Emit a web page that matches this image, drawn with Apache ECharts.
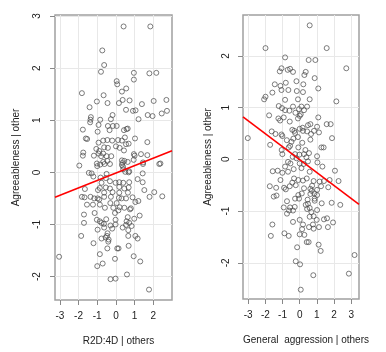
<!DOCTYPE html>
<html>
<head>
<meta charset="utf-8">
<script src="https://cdn.jsdelivr.net/npm/echarts@6/dist/echarts.min.js"></script>
<style>
  html, body { margin: 0; padding: 0; background: #fff; }
  #main { width: 386px; height: 352px; }
</style>
</head>
<body>
<div id="main"></div>
<script>
    // left panel: R2D:4D residuals vs agreeableness residuals
    var r2d4dX = [
        0.41, 1.84, -0.73, -0.63, -0.80, 0.96, 1.79, 2.16, 0.96, 0.04, 0.07, 0.55, 0.32, -1.82, -0.66, 0.36, 0.73, 2.02, 2.70, -1.02,
        -0.45, 0.16, 1.39, -1.41, 0.54, 0.91, 1.05, 2.73, 2.45, -0.18, 1.70, 1.96, -1.34, -1.36, -0.84, -0.27, 1.21, -1.38, -0.93, -1.77,
        -0.43, -0.16, 0.04, -0.34, 0.57, 0.63, 0.43, -0.98, -1.61, -1.54, 0.48, 1.02, -0.46, -0.68, -0.93, -0.20, 0.11, 0.32, 1.68, 0.54,
        0.68, 0.00, -1.05, -0.63, -0.43, 0.20, 0.43, -0.89, -1.75, -1.77, -1.18, -0.93, -0.68, -0.79, -0.50, -0.25, 0.96, 1.00, 1.34, 1.68,
        0.95, 0.32, 0.45, -0.46, -0.68, -1.02, -1.00, -1.96, -0.61, -0.32, -0.84, 0.34, 0.32, 0.63, 0.38, 1.45, 2.38, 2.32, 1.45, 0.39,
        0.71, 1.43, -1.45, -1.30, -0.50, 0.50, 0.68,
        -0.82, -0.54, -1.21, -0.32, -0.02, 0.18, 0.39, 0.71, 1.16, 1.43, -0.77, -0.86, -0.54, -0.32, 0.18, 0.45, 0.68, 1.52, -1.66, -0.96,
        -0.63, -0.18, 0.18, 0.64, 2.05, -1.82, -1.68, -1.36, -1.16, -0.98, -0.89, -0.63, -0.27, 0.16, 0.30, 0.54, 0.89, 1.80, 2.48, 1.20,
        1.04, -1.55, -1.23, -0.86, -0.30, 0.04, -0.59, -0.14, 0.20, 0.45, 0.75, 0.80, -1.14, -0.05, 0.13, -1.71, 1.27, 0.63, 0.98, -1.02,
        -0.86, -0.52, -0.02, -0.77, -0.64, 0.57, 0.71, -0.29, -1.71, -0.02, 0.54, 0.84, 0.36, -0.20, -0.98, -0.63, 0.66, -0.45, -0.48, -0.77,
        -0.55, -0.39, -1.86, 0.66, 1.04, 1.16, -1.20, -0.41, 0.68, 0.07, 0.14, -0.46, -0.86, -3.04, 0.95, -0.05, -0.71, -1.00, 1.30, 0.59,
        -0.02, -0.29, 1.77
    ];
    var agreeLeftY = [
        2.80, 2.80, 2.34, 2.06, 1.93, 1.91, 1.90, 1.91, 1.78, 1.75, 1.69, 1.61, 1.55, 1.52, 1.48, 1.39, 1.38, 1.37, 1.39, 1.36,
        1.33, 1.33, 1.31, 1.25, 1.20, 1.18, 1.19, 1.18, 1.13, 1.10, 1.10, 1.08, 1.06, 1.01, 1.01, 1.02, 1.02, 0.96, 0.91, 0.82,
        0.89, 0.89, 0.89, 0.81, 0.83, 0.84, 0.81, 0.78, 0.65, 0.64, 0.67, 0.65, 0.62, 0.61, 0.57, 0.61, 0.62, 0.61, 0.58, 0.54,
        0.55, 0.50, 0.45, 0.48, 0.47, 0.47, 0.42, 0.41, 0.38, 0.32, 0.32, 0.36, 0.36, 0.31, 0.31, 0.31, 0.35, 0.32, 0.35, 0.33,
        0.24, 0.23, 0.22, 0.22, 0.20, 0.17, 0.12, 0.13, 0.16, 0.16, 0.15, 0.18, 0.14, 0.20, 0.11, 0.16, 0.17, 0.16, 0.19, 0.06,
        0.02, -0.02, -0.01, -0.02, -0.03, 0.01, 0.00,
        -0.10, -0.11, -0.08, -0.17, -0.20, -0.19, -0.20, -0.19, -0.13, -0.19, -0.20, -0.30, -0.29, -0.31, -0.28, -0.31, -0.29, -0.34, -0.32, -0.34,
        -0.39, -0.38, -0.39, -0.39, -0.38, -0.47, -0.48, -0.47, -0.50, -0.50, -0.52, -0.47, -0.47, -0.49, -0.50, -0.50, -0.48, -0.47, -0.46, -0.55,
        -0.57, -0.62, -0.62, -0.62, -0.59, -0.59, -0.68, -0.68, -0.67, -0.68, -0.71, -0.69, -0.78, -0.78, -0.73, -0.81, -0.83, -0.86, -0.89, -0.91,
        -0.94, -0.90, -0.91, -0.97, -0.99, -0.94, -0.97, -1.02, -0.97, -1.00, -1.01, -1.03, -1.06, -1.08, -1.10, -1.06, -1.11, -1.17, -1.22, -1.27,
        -1.25, -1.29, -1.22, -1.22, -1.22, -1.27, -1.36, -1.33, -1.41, -1.46, -1.46, -1.46, -1.57, -1.62, -1.61, -1.66, -1.75, -1.80, -1.71, -1.96,
        -2.04, -2.05, -2.25
    ];
    var fitLeftX = [-3.26, 3.0];
    var fitLeftY = [-0.48, 0.415];

    // right panel: general aggression residuals vs agreeableness residuals
    var aggressionX = [
        0.58, -1.99, 1.57, -0.85, 0.52, 0.91, 2.71, -1.06, -1.16, -0.70, -0.56, -0.39, 0.35, 0.27, 0.87, -1.45, -1.12, -0.81, -0.19, 0.21,
        1.08, -1.59, -1.06, -0.66, -0.17, 0.19, -1.99, -2.07, -0.85, -0.10, 0.58, 2.13, -1.22, -1.03, -0.39, 0.10, 0.43, -0.85, -0.60, -0.04,
        0.25, -1.78, -0.25, 0.06, 0.00, -1.24, -0.93, -1.14, -0.58, -0.10, 1.08, 0.48, 0.62, 1.57, 1.80, 0.17, 1.01, -1.63, -1.41, -1.06,
        -1.01, -0.43, -0.31, -0.27, 0.00, 0.19, 0.43, 0.66, 0.83, 1.12, -3.02, -1.72, -0.75, -0.48, -0.37, -0.10, 0.15, 0.62, 1.88, -0.64,
        -0.56, -0.08, 1.26, 1.39, -1.05, 0.33, -1.01, -0.27, -0.02, 0.25, 0.54, -0.41, -0.19, 1.01, 0.39, -0.68, -0.54, -1.28, -1.57, -0.85,
        0.00, 0.23, 0.48, 1.03, 1.32, 2.05, -0.68, -0.35, 0.10, 0.58, -1.01,
        -1.12, -0.33, -0.08, 0.19, 0.41, 0.81, 1.16, 1.41, 1.74, 2.26, -0.43, -1.74, -1.37, -0.91, -0.81, -0.58, -0.23, 0.25, 0.62, 0.72,
        1.01, 1.24, 1.66, -1.51, -1.35, -0.08, 0.12, 0.70, 0.62, 0.85, 1.01, -0.74, -0.27, -0.04, 0.46, 0.87, 0.87, 1.28, 1.86, 2.36,
        -0.93, -0.56, -0.29, 0.35, 0.48, 0.58, 0.43, 1.01, -0.62, -0.74, -0.39, 0.68, 0.81, 0.58, 0.99, 1.41, 1.59, 1.94, 1.64, -0.39,
        0.00, 0.19, 0.54, 0.77, 1.12, 0.81, 0.14, -1.59, -1.68, -0.89, -0.64, 0.00, 0.27, 0.41, 0.52, 1.10, 1.22, -0.15, -0.23, 0.02,
        0.79, 2.86, 3.19, 0.06
    ];
    var agreeRightY = [
        2.59, 2.15, 2.15, 1.97, 1.92, 1.92, 1.76, 1.76, 1.70, 1.73, 1.75, 1.69, 1.69, 1.63, 1.57, 1.45, 1.42, 1.48, 1.51, 1.45,
        1.37, 1.29, 1.34, 1.34, 1.32, 1.30, 1.21, 1.16, 1.15, 1.16, 1.16, 1.12, 1.03, 0.99, 1.02, 1.02, 1.02, 0.95, 0.94, 0.97,
        0.95, 0.85, 0.90, 0.87, 0.84, 0.79, 0.81, 0.75, 0.73, 0.79, 0.81, 0.66, 0.68, 0.68, 0.68, 0.61, 0.63, 0.54, 0.49, 0.48,
        0.45, 0.57, 0.55, 0.51, 0.59, 0.55, 0.54, 0.49, 0.55, 0.52, 0.41, 0.28, 0.37, 0.34, 0.40, 0.43, 0.32, 0.38, 0.41, 0.23,
        0.26, 0.23, 0.23, 0.23, 0.18, 0.18, 0.10, 0.10, 0.09, 0.10, 0.12, 0.05, 0.02, 0.06, 0.04, -0.05, -0.08, -0.22, -0.23, -0.14,
        -0.08, -0.09, -0.04, -0.06, -0.14, -0.22, -0.24, -0.19, -0.17, -0.24, -0.26,
        -0.40, -0.37, -0.40, -0.41, -0.37, -0.42, -0.43, -0.42, -0.40, -0.42, -0.45, -0.52, -0.55, -0.55, -0.58, -0.52, -0.50, -0.56, -0.57, -0.51,
        -0.59, -0.52, -0.54, -0.72, -0.70, -0.69, -0.66, -0.61, -0.67, -0.66, -0.69, -0.81, -0.76, -0.76, -0.78, -0.76, -0.80, -0.85, -0.84, -0.88,
        -0.93, -0.93, -0.92, -0.88, -0.86, -0.94, -0.96, -0.98, -0.99, -1.05, -0.99, -1.02, -1.10, -1.11, -1.17, -1.16, -1.14, -1.22, -1.31, -1.21,
        -1.17, -1.26, -1.31, -1.26, -1.31, -1.34, -1.35, -1.26, -1.48, -1.43, -1.48, -1.45, -1.46, -1.60, -1.60, -1.65, -1.77, -1.70, -1.97, -2.03,
        -2.24, -2.21, -1.85, -2.52
    ];
    var fitRightX = [-3.3, 3.45];
    var fitRightY = [0.82, -0.87];

    var ticksLeftX = [-3, -2, -1, 0, 1, 2];
    var ticksLeftY = [-2, -1, 0, 1, 2, 3];
    var ticksRightX = [-3, -2, -1, 0, 1, 2, 3];
    var ticksRightY = [-2, -1, 0, 1, 2];

    function pairs(xs, ys) {
        return xs.map(function (x, i) { return [x, ys[i]]; });
    }

    var font = 'Liberation Sans, Arial, sans-serif';

    function xAxisOf(grid, min, max, ticks, name) {
        return {
            type: 'value', gridIndex: grid, min: min, max: max,
            name: name, nameLocation: 'middle', nameGap: 36,
            nameTextStyle: { fontFamily: font, fontSize: 10, color: '#222', padding: [0, 0, 0, 10] },
            axisLine: { show: false, onZero: false },
            axisTick: { show: true, length: 5, customValues: ticks, lineStyle: { color: '#888' } },
            axisLabel: { customValues: ticks, margin: 11, fontFamily: font, fontSize: 10, color: '#222' },
            splitLine: { show: true, customValues: ticks, lineStyle: { color: '#e8e8e8', width: 1 } }
        };
    }

    function yAxisOf(grid, min, max, ticks, gap, margin) {
        return {
            type: 'value', gridIndex: grid, min: min, max: max,
            name: 'Agreeableness | other', nameLocation: 'middle', nameGap: gap,
            nameTextStyle: { fontFamily: font, fontSize: 10, color: '#222' },
            axisLine: { show: false, onZero: false },
            axisTick: { show: true, length: 5, customValues: ticks, lineStyle: { color: '#888' } },
            axisLabel: { customValues: ticks, rotate: 90, margin: margin, fontFamily: font, fontSize: 10, color: '#222' },
            splitLine: { show: true, customValues: ticks, lineStyle: { color: '#e8e8e8', width: 1 } }
        };
    }

    var pointStyle = { color: 'rgba(0,0,0,0)', borderColor: '#4a4a4a', borderWidth: 0.9 };

    var dom = document.getElementById('main');
    var myChart = echarts.init(dom, null, { renderer: 'canvas' });

    var option = {
        backgroundColor: '#fff',
        animation: false,
        grid: [
            { left: 55, top: 15, width: 117, height: 285, show: true, borderColor: '#a0a0a0', borderWidth: 1.5, backgroundColor: 'transparent' },
            { left: 243, top: 15, width: 116, height: 284, show: true, borderColor: '#a0a0a0', borderWidth: 1.5, backgroundColor: 'transparent' }
        ],
        xAxis: [
            xAxisOf(0, -3.26, 3.0, ticksLeftX, 'R2D:4D | others'),
            xAxisOf(1, -3.3, 3.45, ticksRightX, 'General  aggression | others')
        ],
        yAxis: [
            yAxisOf(0, -2.45, 3.02, ticksLeftY, 34, 13),
            yAxisOf(1, -2.7, 2.79, ticksRightY, 30, 12)
        ],
        series: [
            {
                type: 'scatter', xAxisIndex: 0, yAxisIndex: 0,
                data: pairs(r2d4dX, agreeLeftY),
                symbol: 'circle', symbolSize: 5, itemStyle: pointStyle,
                emphasis: { disabled: true }
            },
            {
                type: 'line', xAxisIndex: 0, yAxisIndex: 0,
                data: pairs(fitLeftX, fitLeftY),
                symbol: 'none', lineStyle: { color: '#ff0000', width: 1.6 },
                emphasis: { disabled: true }
            },
            {
                type: 'scatter', xAxisIndex: 1, yAxisIndex: 1,
                data: pairs(aggressionX, agreeRightY),
                symbol: 'circle', symbolSize: 5, itemStyle: pointStyle,
                emphasis: { disabled: true }
            },
            {
                type: 'line', xAxisIndex: 1, yAxisIndex: 1,
                data: pairs(fitRightX, fitRightY),
                symbol: 'none', lineStyle: { color: '#ff0000', width: 1.6 },
                emphasis: { disabled: true }
            }
        ]
    };

    option && myChart.setOption(option);
</script>
</body>
</html>
